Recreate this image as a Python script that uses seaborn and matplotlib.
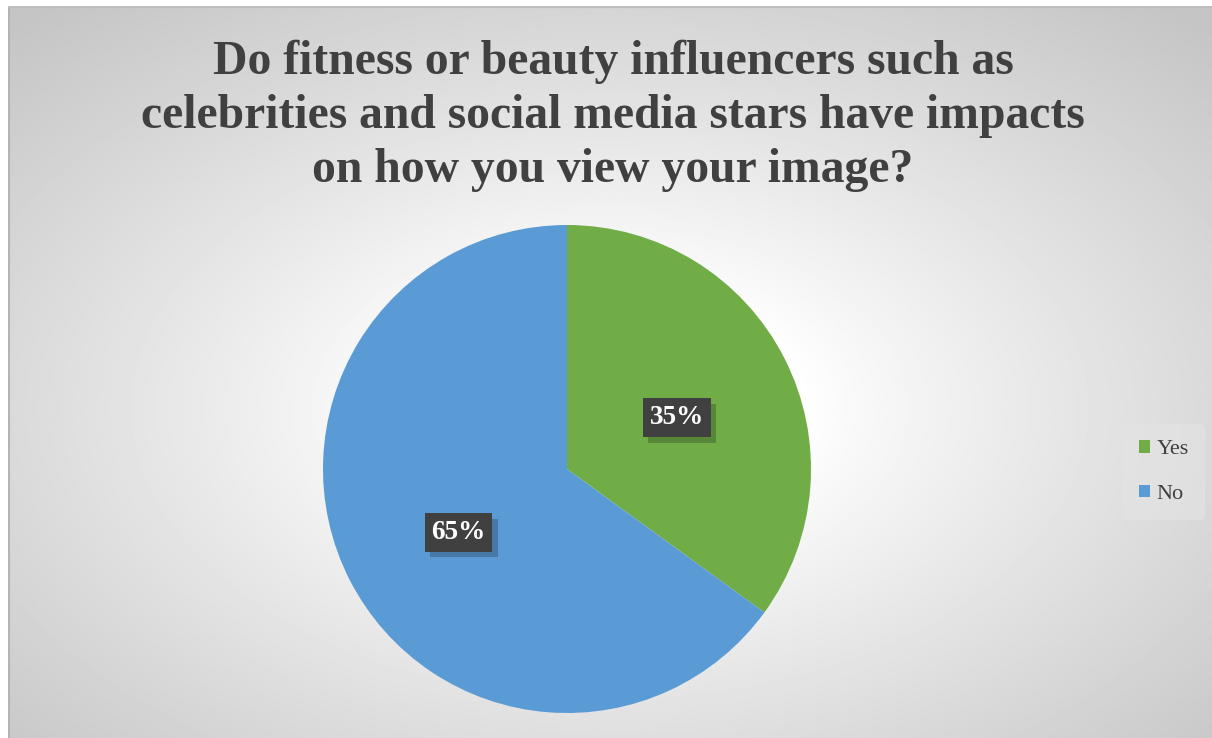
import numpy as np
import matplotlib
matplotlib.use("Agg")
import matplotlib.pyplot as plt
import matplotlib.patheffects as pe
from matplotlib.patches import Patch
import seaborn as sns

# data
answers = ["Yes", "No"]
shares = [35, 65]
pct_labels = ["35%", "65%"]
title = ("Do fitness or beauty influencers such as\n"
         "celebrities and social media stars have impacts\n"
         "on how you view your image?")

sns.set_style("white")
plt.rcParams['font.family'] = ['Liberation Serif', 'DejaVu Serif']
colors = ["#70AD47", "#5B9BD5"]

W, H = 1212, 738
fig = plt.figure(figsize=(W / 100, H / 100), dpi=100)
fig.patch.set_facecolor("white")

# radial grey background of the chart area
bg = fig.add_axes([8 / W, 0, (W - 8) / W, (H - 6) / H])
xx, yy = np.meshgrid(np.linspace(-1, 1, 600), np.linspace(-1, 1, 400))
cx, cy = 0.0, 0.1
r = np.sqrt((xx - cx) ** 2 + (yy - cy) ** 2) / 1.45
r = np.clip((r - 0.22) / 0.78, 0, 1)
shade = 1.0 - 0.23 * r ** 0.9
bg.imshow(shade, cmap="gray", vmin=0, vmax=1, aspect="auto",
          extent=[0, 1, 0, 1], origin="upper", interpolation="bilinear")
bg.set_xlim(0, 1)
bg.set_ylim(0, 1)
bg.axis("off")
bg.plot([0.001, 0.001], [0, 1], color="#b4b4b4", lw=1.5, transform=bg.transAxes)
bg.plot([0, 1], [0.999, 0.999], color="#bdbdbd", lw=1.5, transform=bg.transAxes)

# pie
rad = 244
ax = fig.add_axes([(567 - rad) / W, (H - 469 - rad) / H, 2 * rad / W, 2 * rad / H])
ax.pie(shares, colors=colors, startangle=90, counterclock=False, radius=1,
       wedgeprops=dict(linewidth=0))
ax.set_xlim(-1, 1)
ax.set_ylim(-1, 1)
ax.set_aspect("equal")
ax.axis("off")

# data labels in dark boxes with a soft shadow
label_pos = [(0.45, 0.21), (-0.445, -0.26)]
for (x, y), txt in zip(label_pos, pct_labels):
    t = ax.text(x, y, txt, ha="center", va="center", fontsize=19.5,
                fontweight="bold", color="white",
                bbox=dict(boxstyle="square,pad=0.25", facecolor="#404040",
                          edgecolor="none"))
    t.get_bbox_patch().set_path_effects(
        [pe.SimplePatchShadow(offset=(4, -4), shadow_rgbFace="black", alpha=0.22),
         pe.Normal()])

fig.text(613 / W, 1 - 116 / H, title, ha="center", va="center",
         fontsize=34.3, fontweight="bold", color="#404040", linespacing=1.3)

handles = [Patch(facecolor=c, edgecolor="none") for c in colors]
leg = fig.legend(handles, answers, loc="center", bbox_to_anchor=(1164 / W, 1 - 472 / H),
                 frameon=True, fontsize=16, handlelength=0.5, handleheight=0.5,
                 handletextpad=0.3, labelspacing=1.15, borderpad=0.7)
leg.get_frame().set_facecolor("#e4e4e4")
leg.get_frame().set_edgecolor("none")
leg.get_frame().set_alpha(0.6)
for t in leg.get_texts():
    t.set_color("#404040")

fig.savefig("out.png", dpi=100)
